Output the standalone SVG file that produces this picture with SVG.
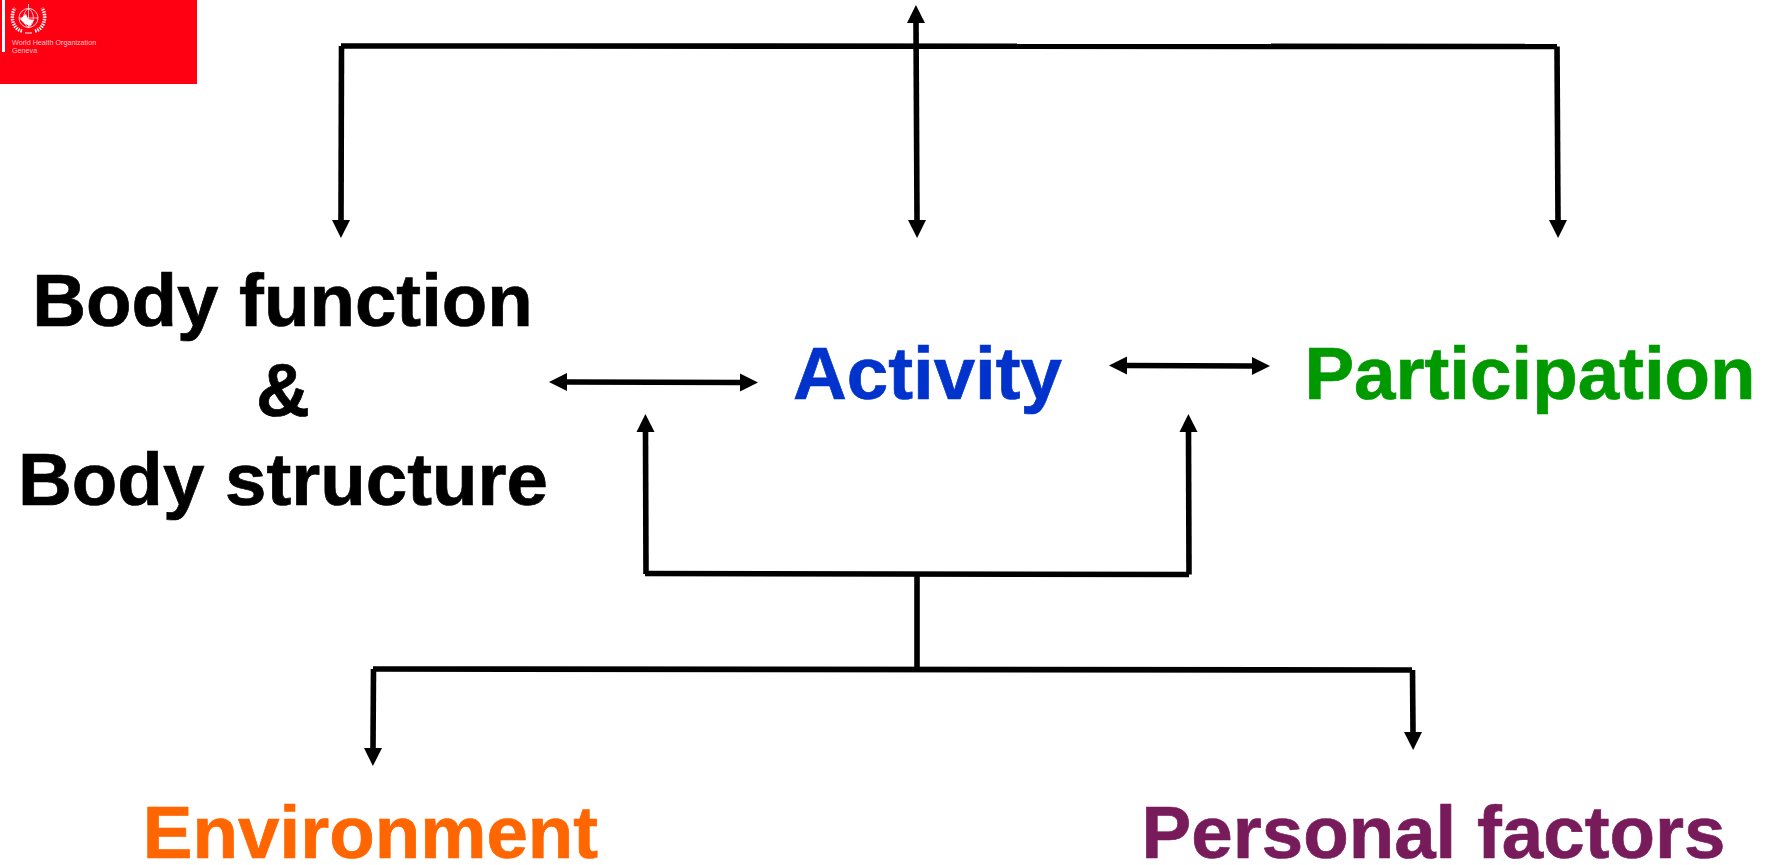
<svg xmlns="http://www.w3.org/2000/svg" width="1765" height="865" viewBox="0 0 1765 865">
<style>
.c{fill:none;stroke:#000;stroke-width:5.600}
.a{marker-end:url(#h)}
.b{marker-start:url(#s);marker-end:url(#h)}
.t{font-family:"Liberation Sans",Arial,sans-serif;font-weight:700;font-size:74.500px;text-anchor:middle;stroke-width:.7px}
.w{font-family:"Liberation Sans",Arial,sans-serif;font-size:7.200px;fill:#ffc0c0}
</style>
<defs>
<marker id="h" markerUnits="userSpaceOnUse" markerWidth="19" markerHeight="18" refX="0" refY="9" orient="auto" overflow="visible"><path d="M0 0L18 9L0 18Z"/></marker>
<marker id="s" markerUnits="userSpaceOnUse" markerWidth="19" markerHeight="18" refX="18" refY="9" orient="auto" overflow="visible"><path d="M18 0L0 9L18 18Z"/></marker>
</defs>
<rect width="1765" height="865" fill="#fff"/>
<g id="logo">
<rect width="197" height="84" fill="#ff0013"/>
<rect x="2" y="0" width="3" height="52" fill="#fff"/>
<g fill="none" stroke="#fff">
<circle cx="28.500" cy="18" r="9.500" stroke-width=".8"/>
<path d="M22 31C12 29 10 15 15 8M35 31C45 29 47 15 42 8" stroke-width="3.500" stroke-dasharray="1.500 1"/>
<path d="M28.500 4V28M19 18H38M28.500 8.500C22 12 22 24 28.500 27.500M28.500 8.500C35 12 35 24 28.500 27.500" stroke-width=".7"/>
<path d="M25 33L32 33" stroke-width="1"/>
</g>
<path d="M20 19L26 14L28 19L34 20L30 26L25 24Z" fill="#fff"/>
<text class="w" x="12" y="44.500">World Health Organization</text>
<text class="w" x="12" y="53">Geneva</text>
</g>
<g id="connectors">
<path class="c" d="M341 46L1557 46.500"/>
<path class="c a" d="M341.500 46L341 220"/>
<path class="c b" d="M916 23L917 220"/>
<path class="c a" d="M1557 46.500L1558 220"/>
<path class="c b" d="M567 382L740 382.500"/>
<path class="c b" d="M1127 365.500L1252 366"/>
<path class="c a" d="M646 574L645.500 432"/>
<path class="c a" d="M1189 574.500L1188.500 432"/>
<path class="c" d="M645 573.500L1189 574.500"/>
<path class="c" d="M917 574V669"/>
<path class="c" d="M373 669L1412 670"/>
<path class="c a" d="M373.500 669L373 748"/>
<path class="c a" d="M1412.500 670L1413 732"/>
</g>
<g id="body-function"><text class="t" stroke="#000" x="282.500" y="326">Body function</text></g>
<g id="and"><text class="t" stroke="#000" x="283" y="416">&amp;</text></g>
<g id="body-structure"><text class="t" stroke="#000" x="283" y="505">Body structure</text></g>
<g id="activity"><text class="t" stroke="#0033cc" x="927.500" y="399" fill="#0033cc">Activity</text></g>
<g id="participation"><text class="t" stroke="#009900" x="1530" y="399" fill="#009900">Participation</text></g>
<g id="environment"><text class="t" stroke="#ff6600" x="370.500" y="858" fill="#ff6600">Environment</text></g>
<g id="personal-factors"><text class="t" stroke="#771b5b" x="1433.500" y="858" fill="#771b5b">Personal factors</text></g>
</svg>
